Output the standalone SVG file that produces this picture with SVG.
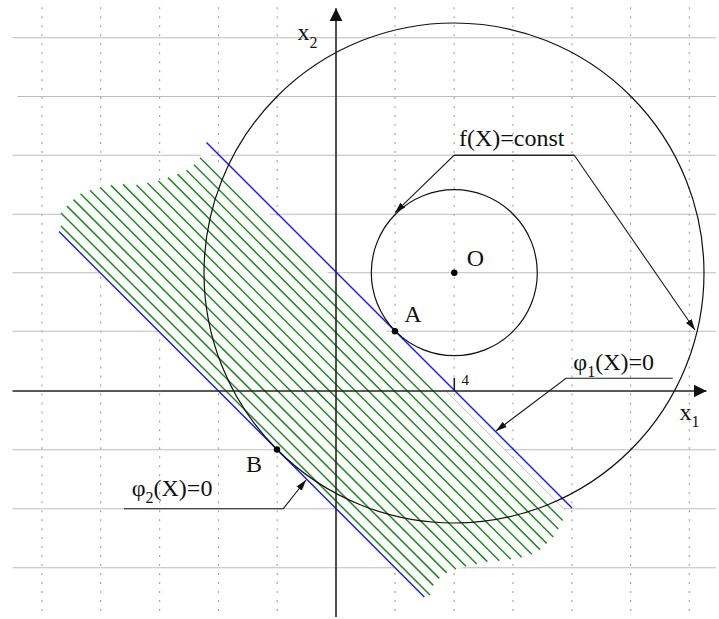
<svg xmlns="http://www.w3.org/2000/svg" width="719" height="619" viewBox="0 0 719 619">
  <style>
    .hgrid { stroke: #bcbcbc; stroke-width: 1.1; fill: none; }
    .vgrid { stroke: #a8a8a8; stroke-width: 1.2; stroke-dasharray: 2 6.98; fill: none; }
    .hatch { stroke: #1f8a1f; stroke-width: 1.5; fill: none; }
    .blue { stroke: #1515f0; stroke-width: 1.4; fill: none; }
    .curve { stroke: #111; stroke-width: 1.2; fill: none; }
    .axis { stroke: #222; stroke-width: 1.6; fill: none; }
    .lead { stroke: #1a1a1a; stroke-width: 1.1; fill: none; }
    .dot { fill: #000; }
    .lbl { font-family: "Liberation Serif", "Times New Roman", serif; font-size: 24px; fill: #111; }
    .sub { font-size: 16px; }
    .small { font-family: "Liberation Serif", "Times New Roman", serif; font-size: 15px; fill: #111; }
  </style>
  <defs>
    <marker id="axisArrow" markerUnits="userSpaceOnUse" markerWidth="14" markerHeight="14" viewBox="0 0 14 14" refX="13" refY="7" orient="auto">
      <path d="M0,0.5 L13,7 L0,13.5 Z" fill="#111"/>
    </marker>
    <marker id="leadArrow" markerUnits="userSpaceOnUse" markerWidth="12" markerHeight="10" viewBox="0 0 12 10" refX="11" refY="5" orient="auto">
      <path d="M0,1.6 L11,5 L0,8.4 Z" fill="#111"/>
    </marker>
  </defs>
  <rect width="719" height="619" fill="#fff"/>

  <g id="grid">
    <line class="hgrid" x1="12.5" y1="37.7" x2="716" y2="37.7"/>
    <line class="hgrid" x1="17.5" y1="96.5" x2="716" y2="96.5"/>
    <line class="hgrid" x1="12.5" y1="155.3" x2="716" y2="155.3"/>
    <line class="hgrid" x1="12.5" y1="214.2" x2="716" y2="214.2"/>
    <line class="hgrid" x1="12.5" y1="272.7" x2="716" y2="272.7"/>
    <line class="hgrid" x1="12.5" y1="331.3" x2="716" y2="331.3"/>
    <line class="hgrid" x1="12.5" y1="449.8" x2="716" y2="449.8"/>
    <line class="hgrid" x1="12.5" y1="508.7" x2="716" y2="508.7"/>
    <line class="hgrid" x1="12.5" y1="567.7" x2="716" y2="567.7"/>
    <line class="vgrid" x1="42" y1="7.3" x2="42" y2="612"/>
    <line class="vgrid" x1="100.7" y1="7.3" x2="100.7" y2="612"/>
    <line class="vgrid" x1="159.6" y1="7.3" x2="159.6" y2="612"/>
    <line class="vgrid" x1="218.5" y1="7.3" x2="218.5" y2="612"/>
    <line class="vgrid" x1="277.2" y1="7.3" x2="277.2" y2="612"/>
    <line class="vgrid" x1="395" y1="7.3" x2="395" y2="612"/>
    <line class="vgrid" x1="454.2" y1="7.3" x2="454.2" y2="612"/>
    <line class="vgrid" x1="513" y1="7.3" x2="513" y2="612"/>
    <line class="vgrid" x1="571.9" y1="7.3" x2="571.9" y2="612"/>
    <line class="vgrid" x1="630.6" y1="7.3" x2="630.6" y2="612"/>
    <line class="vgrid" x1="689.3" y1="7.3" x2="689.3" y2="612"/>
  </g>

  <g id="feasible-region">
    <polygon fill="#fff" stroke="none" points="59,231.6 61,226 61,213 67,206.1 73.5,199.65 80.5,193.7 90,190.25 100,187.3 111,185.35 123,184.4 136.5,184.95 147.5,183 158.5,181.05 168,177.6 177.5,174.15 186.5,170.2 194,164.75 200,157.8 204,148.85 565,509.85 562.7,520.5 558.3,529.05 553.3,537 546.7,543.35 540,549.6 531.7,554.25 521.7,557.2 510.7,559.15 499.3,560.7 487.3,561.65 476.7,564 466,566.25 456,569.2 446.7,572.85 439.3,578.4 433.3,585.35 430,595 424.3,596.9"/>
    <line class="hatch" x1="61" y1="226" x2="430" y2="595"/>
    <line class="hatch" x1="61" y1="213.05" x2="433.3" y2="585.35"/>
    <line class="hatch" x1="67" y1="206.1" x2="439.3" y2="578.4"/>
    <line class="hatch" x1="73.5" y1="199.65" x2="446.7" y2="572.85"/>
    <line class="hatch" x1="80.5" y1="193.7" x2="456" y2="569.2"/>
    <line class="hatch" x1="90" y1="190.25" x2="466" y2="566.25"/>
    <line class="hatch" x1="100" y1="187.3" x2="476.7" y2="564"/>
    <line class="hatch" x1="111" y1="185.35" x2="487.3" y2="561.65"/>
    <line class="hatch" x1="123" y1="184.4" x2="499.3" y2="560.7"/>
    <line class="hatch" x1="136.5" y1="184.95" x2="510.7" y2="559.15"/>
    <line class="hatch" x1="147.5" y1="183" x2="521.7" y2="557.2"/>
    <line class="hatch" x1="158.5" y1="181.05" x2="531.7" y2="554.25"/>
    <line class="hatch" x1="168" y1="177.6" x2="540" y2="549.6"/>
    <line class="hatch" x1="177.5" y1="174.15" x2="546.7" y2="543.35"/>
    <line class="hatch" x1="186.5" y1="170.2" x2="553.3" y2="537"/>
    <line class="hatch" x1="194" y1="164.75" x2="558.3" y2="529.05"/>
    <line class="hatch" x1="200" y1="157.8" x2="562.7" y2="520.5"/>
    <line x1="446" y1="390.85" x2="565" y2="509.85" stroke="#8fc98f" stroke-width="0.8"/>
  </g>

  <g id="line-phi1">
    <line class="blue" x1="206.5" y1="142.5" x2="572" y2="508"/>
  </g>
  <g id="line-phi2">
    <line class="blue" x1="59" y1="231.6" x2="424.3" y2="596.9"/>
  </g>

  <g id="circle-big">
    <circle class="curve" cx="454" cy="273" r="250"/>
  </g>
  <g id="circle-small">
    <circle class="curve" cx="454.3" cy="272.7" r="83"/>
  </g>

  <g id="axes">
    <line class="axis" x1="12.5" y1="391" x2="706.5" y2="391" marker-end="url(#axisArrow)"/>
    <line class="axis" x1="336" y1="617" x2="336" y2="8.3" marker-end="url(#axisArrow)"/>
    <line class="axis" x1="454.3" y1="378" x2="454.3" y2="391" stroke-width="1.3"/>
  </g>

  <g id="connectors">
    <polyline class="lead" points="574.3,155.3 454,155.3 395,212.7" marker-end="url(#leadArrow)"/>
    <polyline class="lead" points="454,155.3 574.3,155.3 695,330" marker-end="url(#leadArrow)"/>
    <polyline class="lead" points="672.7,378.3 566,378.3 496,431" stroke="#555" marker-end="url(#leadArrow)"/>
    <polyline class="lead" points="124,508.7 283.3,508.7 306,480" stroke-width="1.8" marker-end="url(#leadArrow)"/>
  </g>

  <g id="point-O">
    <circle class="dot" cx="454.3" cy="272.7" r="3.2"/>
    <text class="lbl" x="466.7" y="265.7">O</text>
  </g>
  <g id="point-A">
    <circle class="dot" cx="395" cy="331.3" r="3.2"/>
    <text class="lbl" x="404.3" y="321.7">A</text>
  </g>
  <g id="point-B">
    <circle class="dot" cx="277" cy="449.5" r="3.2"/>
    <text class="lbl" x="246" y="471.7">B</text>
  </g>

  <g id="labels">
    <text class="lbl" x="297.5" y="39.5">x<tspan class="sub" dy="8">2</tspan></text>
    <text class="lbl" x="679.5" y="420">x<tspan class="sub" dy="7">1</tspan></text>
    <text class="small" x="461.5" y="385">4</text>
    <text class="lbl" x="459" y="146">f(X)=const</text>
    <text class="lbl" x="573.3" y="370">φ<tspan class="sub" dy="7">1</tspan><tspan dy="-7">(X)=0</tspan></text>
    <text class="lbl" x="131.7" y="496">φ<tspan class="sub" dy="7">2</tspan><tspan dy="-7">(X)=0</tspan></text>
  </g>
</svg>
